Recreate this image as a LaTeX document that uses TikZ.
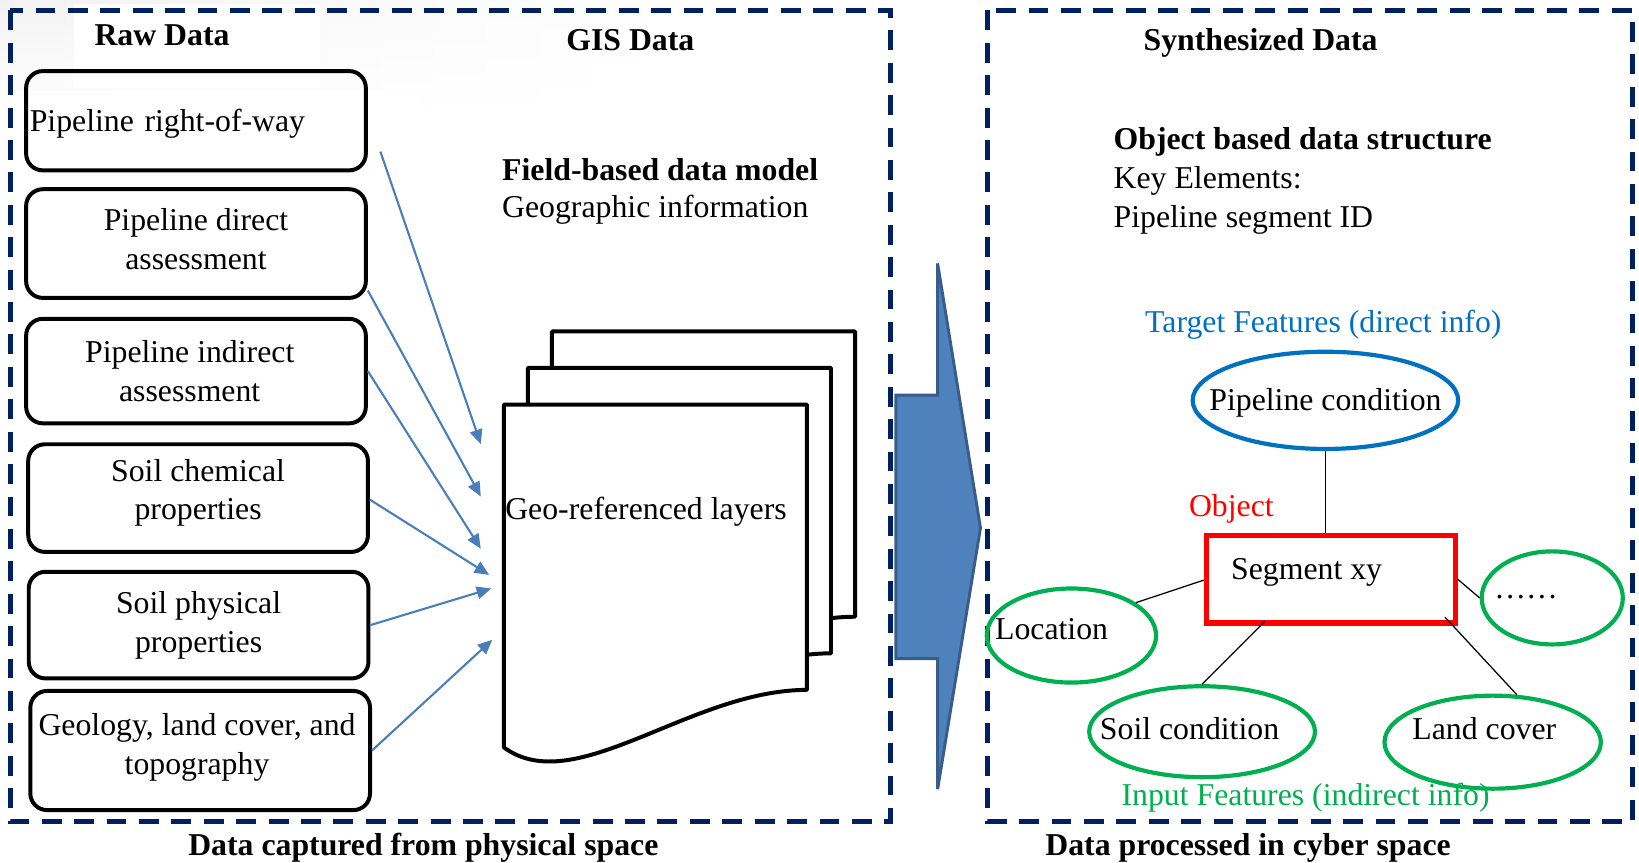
\documentclass[tikz,border=0pt]{standalone}
\usepackage{fontspec}
\setmainfont{Liberation Serif}
\usetikzlibrary{calc,shapes.geometric,arrows.meta,fadings}

\definecolor{navy}{RGB}{0,32,96}
\definecolor{flowblue}{RGB}{74,126,187}
\definecolor{blockfill}{RGB}{79,129,189}
\definecolor{blockedge}{RGB}{56,93,138}
\definecolor{targetblue}{RGB}{0,112,192}
\definecolor{inputgreen}{RGB}{0,176,80}
\definecolor{objred}{RGB}{255,0,0}

\tikzfading[name=fadedown, top color=transparent!0, bottom color=transparent!100]

\tikzset{
  txt/.style={font=\fontsize{15.2pt}{18.5pt}\selectfont, inner sep=1pt},
  ttl/.style={txt, font=\fontsize{15.2pt}{18.5pt}\selectfont\bfseries},
  zone/.style={draw=navy, line width=2.4pt, dash pattern=on 9.5pt off 6pt},
  rawbox/.style={txt, draw=black, line width=1.9pt, rounded corners=8pt,
    minimum width=162.5pt, align=center},
  flow/.style={draw=flowblue, line width=1pt, -{Triangle[length=7pt,width=6pt]}},
  sheet/.style={draw=black, fill=white, line width=1.9pt, line join=round},
  bigarrow/.style={fill=blockfill, draw=blockedge, line width=1.4pt, line join=miter},
  feat/.style={ellipse, line width=2pt, inner sep=0pt},
  tie/.style={draw=black, line width=0.6pt},
}

\begin{document}
\begin{tikzpicture}[x=0.5pt, y=-0.5pt]
\useasboundingbox (0,0) rectangle (1568,825);

% soft grey wash behind the upper-left titles
\shade[left color=gray!10, right color=white, path fading=fadedown] (0,0) rectangle (640,112);
\fill[white] (71,4) rectangle (306,84);
\fill[white] (10,87) rectangle (400,163);

% the two dashed zones
\draw[zone] (10,10) rectangle (852,786);
\draw[zone] (945,10) rectangle (1562,786);

% titles
\node[ttl] (rawt) at (155,34) {Raw Data};
\node[ttl] (gist) at (603,38) {GIS Data};
\node[ttl] (synt) at (1206,41) {Synthesized Data};
\node[ttl] (physt) at (405,811) {Data captured from physical space};
\node[ttl] (cybt) at (1194,811) {Data processed in cyber space};

% raw data sources
\node[rawbox, text width=159pt, inner xsep=1.75pt, align=left, minimum height=47.5pt, text depth=0pt]
  (b1) at (187.5,115.5) {Pipeline right-of-way};
\node[rawbox, minimum height=52pt, text depth=4.5pt] (b2) at (187.5,233) {Pipeline direct\\assessment};
\node[rawbox, minimum height=50pt] (b3) at (187.5,355) {\hspace*{-6pt}Pipeline indirect\\\hspace*{-6pt}assessment};
\node[rawbox, minimum height=51.5pt, text depth=8.3pt] (b4) at (189.5,476.5) {Soil chemical\\properties};
\node[rawbox, minimum height=51pt] (b5) at (190,598) {Soil physical\\properties};
\node[rawbox, minimum height=57pt, text depth=6.3pt] (b6) at (191.5,718) {\hspace*{-3pt}Geology, land cover, and\\\hspace*{-3pt}topography};

% GIS layer stack
\foreach \dx/\dy in {46/-70, 23/-35, 0/0} {
  \begin{scope}[shift={(\dx,\dy)}]
    \draw[sheet] (482,715) -- (482,387) -- (772,387) -- (772,660)
      .. controls (660,660) and (550,765) .. (482,715) -- cycle;
  \end{scope}
}
\node[txt] (geo) at (618,490) {Geo-referenced layers};

\node[ttl, anchor=west] (fbm) at (478,162) {Field-based data model};
\node[txt, anchor=west] (geoinfo) at (478,201) {Geographic information};

% arrow heads land just left of the front sheet
\coordinate (t1) at (460,425);
\coordinate (t2) at (460,475);
\coordinate (t3) at (460,525);
\coordinate (t4) at (468,550);
\coordinate (t5) at (470,563);
\coordinate (t6) at (471,612);
\draw[flow] ($(b1.east)+(12,29.5)$) -- (t1);
\draw[flow] ($(b2.east)+(0,45)$) -- (t2);
\draw[flow] (b3.east) -- (t3);
\draw[flow] ($(b4.east)+(0,1.5)$) -- (t4);
\draw[flow] (b5.east) -- (t5);
\draw[flow] (b6.east) -- (t6);

% transfer arrow between the zones
\draw[bigarrow] (857,378) -- (897,378) -- (897,252) -- (938,505) -- (897,755)
  -- (897,630) -- (857,630) -- cycle;

% object based structure
\node[ttl, anchor=west, align=left] (obj) at (1063,136) {Object based data structure};
\node[txt, anchor=west, align=left] (keys) at (1063,191.5) {Key Elements:\\Pipeline segment ID};

\node[txt, text=targetblue] (tft) at (1266,311) {Target Features (direct info)};
\node[feat, draw=targetblue, minimum width=127pt, minimum height=46.5pt] (pc) at (1268,383) {};
\node[txt] (pct) at (1268,385) {Pipeline condition};

\node[txt, text=objred] (objt) at (1178,487) {Object};
\node[draw=objred, line width=2.4pt, minimum width=119pt, minimum height=42pt, inner sep=0pt]
  (seg) at (1273,554) {};
\node[txt] (segt) at (1250,548) {Segment xy};

\node[feat, draw=inputgreen, minimum width=81pt, minimum height=45pt] (loc) at (1025,608) {};
\node[txt] (loct) at (1006,602) {Location};
\node[feat, draw=inputgreen, minimum width=108pt, minimum height=43.5pt] (soil) at (1150,700) {};
\node[txt] (soilt) at (1138,697) {Soil condition};
\node[feat, draw=inputgreen, minimum width=103.5pt, minimum height=44.5pt] (land) at (1428,710) {};
\node[txt] (landt) at (1420,697) {Land cover};
\node[feat, draw=inputgreen, minimum width=67.5pt, minimum height=44.5pt] (more) at (1485,572) {};
\node[txt] (moret) at (1460,571) {\dots\dots};

\node[txt, text=inputgreen] (ift) at (1249,763) {Input Features (indirect info)};

% links from the segment object
\draw[tie] (pc.south) -- (pc.south |- seg.north);
\draw[tie] (loc.27) -- ($(seg.west)+(0,1)$);
\draw[tie] (soil.north) -- ($(seg.south)+(-63,-4)$);
\draw[tie] (land.63) -- ($(seg.south east)+(-12,-8)$);
\draw[tie] (seg.east) -- (more.west);
\end{tikzpicture}
\end{document}
